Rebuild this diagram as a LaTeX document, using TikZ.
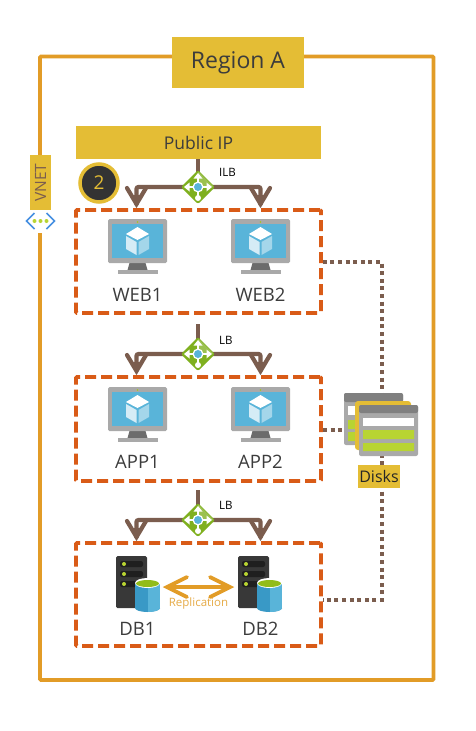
\documentclass[tikz,border=0pt]{standalone}
\usepackage{fontspec}
\setmainfont{Open Sans}
\usetikzlibrary{calc}
\definecolor{frameor}{HTML}{E29C27}
\definecolor{gold}{HTML}{E4BD35}
\definecolor{dashor}{HTML}{D95B17}
\definecolor{brownl}{HTML}{7B5D4E}
\definecolor{txt}{HTML}{3C3C3C}
\definecolor{lbgreen}{HTML}{7FB01F}
\definecolor{lblue}{HTML}{59B4D9}
\definecolor{dblue}{HTML}{3999C6}
\definecolor{mgrey}{HTML}{A9A9A9}
\definecolor{lime}{HTML}{B8D432}
\tikzset{
  x=1pt,y=-1pt,
  tier/.style={draw=dashor,line width=3.6pt,dash pattern=on 11pt off 5pt,rounded corners=1pt},
  feed/.style={draw=brownl,line width=4.2pt},
  wire/.style={draw=brownl,line width=3.8pt,dash pattern=on 4pt off 3.6pt},
  lbl/.style={text=txt,font=\fontsize{18.5}{22}\selectfont,inner sep=0pt},
  small/.style={text=black,font=\fontsize{11.5}{14}\selectfont,inner sep=0pt},
  banner/.style={fill=gold,text=txt,inner sep=0pt},
}
\newcommand{\openhead}[2]{% open arrow head tip at (#1,#2)
  \draw[feed,line join=miter,line cap=round] (#1-9.5,#2-19) -- (#1,#2-3) -- (#1+9.5,#2-19);
  \fill[brownl] (#1-3.5,#2-12) -- (#1+3.5,#2-12) -- (#1,#2-3) -- cycle;
}
\newcommand{\balancer}[2]{% centre
  \fill[lbgreen,rounded corners=2pt] (#1,#2-17) -- (#1+17,#2) -- (#1,#2+17) -- (#1-17,#2) -- cycle;
  \fill[white!22!lbgreen,rounded corners=1pt] (#1,#2-16) -- (#1+16,#2) -- (#1,#2) -- cycle;
  \draw[white,line width=2pt] (#1-10,#2) -- (#1+10,#2) (#1,#2-10) -- (#1,#2+10);
  \fill[white] (#1-14,#2) -- (#1-8.5,#2-4.5) -- (#1-8.5,#2+4.5) -- cycle
               (#1+14,#2) -- (#1+8.5,#2-4.5) -- (#1+8.5,#2+4.5) -- cycle
               (#1,#2-14) -- (#1-4.5,#2-8.5) -- (#1+4.5,#2-8.5) -- cycle
               (#1,#2+11) circle (3);
  \fill[white] (#1,#2) circle (5.5);
  \fill[lblue] (#1,#2) circle (4);
}
\newcommand{\monitor}[2]{% centre x, top y
  \fill[gray!85!black] (#1-8,#2+44) -- (#1+8,#2+44) -- (#1+10,#2+51) -- (#1-10,#2+51) -- cycle;
  \fill[mgrey] (#1-20,#2+51) rectangle (#1+20,#2+55);
  \fill[mgrey,rounded corners=1.5pt] (#1-29.5,#2) rectangle (#1+29.5,#2+44);
  \fill[lblue] (#1-25.5,#2+5) rectangle (#1+25.5,#2+39);
  \fill[lbgreen!70!yellow] (#1,#2+3) circle (0.8);
  \fill[white] (#1,#2+8) -- (#1+11.5,#2+15) -- (#1,#2+21) -- (#1-11.5,#2+15) -- cycle;
  \fill[white!75!lblue] (#1-11.5,#2+17) -- (#1-1,#2+23) -- (#1-1,#2+36) -- (#1-11.5,#2+30) -- cycle;
  \fill[white!45!lblue] (#1+11.5,#2+17) -- (#1+1,#2+23) -- (#1+1,#2+36) -- (#1+11.5,#2+30) -- cycle;
}
\newcommand{\dbserver}[2]{% left x of server, top y
  \fill[black!78,rounded corners=1.5pt] (#1,#2) rectangle (#1+31,#2+52);
  \foreach \k in {0,1,2}{
    \fill[black!88,rounded corners=2pt] (#1+4,#2+5+\k*10) rectangle (#1+27,#2+11+\k*10);
    \fill[lime] (#1+8,#2+8+\k*10) circle (2);
  }
  \fill[dblue] (#1+31.5,#2+52) ellipse (12.5 and 4);
  \fill[dblue] (#1+19,#2+28) rectangle (#1+32,#2+52);
  \begin{scope}
    \clip (#1+32,#2+20) rectangle (#1+46,#2+58);
    \fill[lblue] (#1+31.5,#2+52) ellipse (12.5 and 4);
    \fill[lblue] (#1+32,#2+28) rectangle (#1+44,#2+52);
  \end{scope}
  \fill[white] (#1+31.5,#2+27) ellipse (12.5 and 5);
  \fill[lbgreen!85!yellow] (#1+31.5,#2+27.5) ellipse (11.5 and 3.5);
}
\begin{document}
\begin{tikzpicture}
\useasboundingbox (0,0) rectangle (475,731);
\fill[white] (0,0) rectangle (475,731);

% outer VNET frame
\draw[frameor,line width=3.8pt,rounded corners=1pt] (40,56.5) rectangle (433.5,680);
\fill[white] (30,208) rectangle (52,233);

\node[banner,minimum width=132pt,minimum height=51pt,font=\fontsize{23}{27}\selectfont] (region) at (238,62.5) {Region A};
\node[banner,minimum width=245pt,minimum height=33pt,font=\fontsize{17.5}{21}\selectfont] (pip) at (198.5,142.5) {Public IP};

% VNET tag
\node[banner,text=brownl,font=\fontsize{15.5}{18}\selectfont,rotate=90,minimum width=55pt,minimum height=21pt] (vnet) at (40.5,182.5) {VNET};
\coordinate (vi) at (40.5,221);
\draw[lblue!80!blue,line width=1.6pt] ($(vi)+(-6,-8)$) -- ($(vi)+(-14,0)$) -- ($(vi)+(-6,8)$);
\draw[lblue!80!blue,line width=1.6pt] ($(vi)+(6,-8)$) -- ($(vi)+(14,0)$) -- ($(vi)+(6,8)$);
\foreach \d in {-6,0,6} \fill[lime] ($(vi)+(\d,0)$) circle (2);

% step badge
\node[circle,fill=black!80,draw=gold,line width=3.5pt,minimum size=38pt,inner sep=0pt,text=gold,font=\fontsize{19}{22}\selectfont] (badge) at (99,183) {2};

% storage wire corners
\coordinate (dj1) at (382,262);
\coordinate (dj2) at (382,600);

% tiers
\node[tier,minimum width=245pt,minimum height=103pt,inner sep=0pt] (t1) at (198.5,261.5) {};
\node[tier,minimum width=245pt,minimum height=104pt,inner sep=0pt] (t2) at (198.5,429) {};
\node[tier,minimum width=245pt,minimum height=103pt,inner sep=0pt] (t3) at (198.5,594.5) {};

\draw[wire] (t1.east |- dj1) -- (dj1) -- (dj2) -- (t3.east |- dj2);
\draw[wire] (323,430) -- (346,430);

% disks
\fill[mgrey,rounded corners=2pt] (344,393) rectangle (403,445);
\fill[gray,rounded corners=2pt] (344,393) rectangle (403,402);
\fill[white] (348,406) rectangle (400,415);
\fill[lime] (348,420) rectangle (400,429) (348,432) rectangle (400,441);
\fill[gold,rounded corners=3pt] (355,401) rectangle (411,450);
\fill[mgrey,rounded corners=2pt] (359,405) rectangle (418,456);
\fill[gray,rounded corners=2pt] (359,405) rectangle (418,413);
\fill[white] (363,418) rectangle (414,426);
\fill[lime] (363,430) rectangle (414,439) (363,443) rectangle (414,451);
\node[banner,minimum width=42pt,minimum height=23pt,text=black!85,font=\fontsize{16}{19}\selectfont] (disks) at (379,476.5) {Disks};

% load balancers and feeds
\coordinate (f1) at (198,187);
\coordinate (f2) at (198,354);
\coordinate (f3) at (198,520);
\draw[feed] (pip.south -| f1) -- (f1);
\draw[feed] (198,324) -- (f2);
\draw[feed] (198,490) -- (f3);
\draw[feed,rounded corners=2pt] (136.5,205) -- (136.5,187) -- (260.5,187) -- (260.5,205);
\draw[feed,rounded corners=2pt] (136.5,371) -- (136.5,354) -- (260.5,354) -- (260.5,371);
\draw[feed,rounded corners=2pt] (136.5,538) -- (136.5,520) -- (260.5,520) -- (260.5,538);
\openhead{136.5}{207}\openhead{260.5}{207}
\openhead{136.5}{374}\openhead{260.5}{374}
\openhead{136.5}{540}\openhead{260.5}{540}
\balancer{198}{187}\balancer{198}{354}\balancer{198}{520}
\node[small,anchor=west] (ilb) at (219,172.5) {ILB};
\node[small,anchor=west] (lb2) at (219,340) {LB};
\node[small,anchor=west] (lb3) at (219,505.5) {LB};

% monitors
\monitor{137.5}{219}\monitor{260.5}{219}
\monitor{137.5}{387}\monitor{260.5}{387}
\node[lbl] (web1) at (137.5,295) {WEB1};
\node[lbl] (web2) at (260.5,295) {WEB2};
\node[lbl] (app1) at (137.5,461.5) {APP1};
\node[lbl] (app2) at (260.5,461.5) {APP2};

% databases
\dbserver{116}{556}\dbserver{238}{556}
\node[lbl] (db1) at (137.5,628.5) {DB1};
\node[lbl] (db2) at (260.5,628.5) {DB2};
\coordinate (ra) at (167,587);
\coordinate (rb) at (230,587);
\draw[frameor,line width=3.8pt,line cap=round,line join=miter] ($(ra)+(20,-10)$) -- (ra) -- ($(ra)+(20,10)$);
\draw[frameor,line width=3.8pt,line cap=round,line join=miter] ($(rb)+(-20,-10)$) -- (rb) -- ($(rb)+(-20,10)$);
\draw[frameor,line width=3.8pt] (ra) -- (rb);
\node[inner sep=0pt,text=frameor!85!white,font=\fontsize{11.5}{14}\selectfont] (rep) at (198.5,604) {Replication};
\end{tikzpicture}
\end{document}
